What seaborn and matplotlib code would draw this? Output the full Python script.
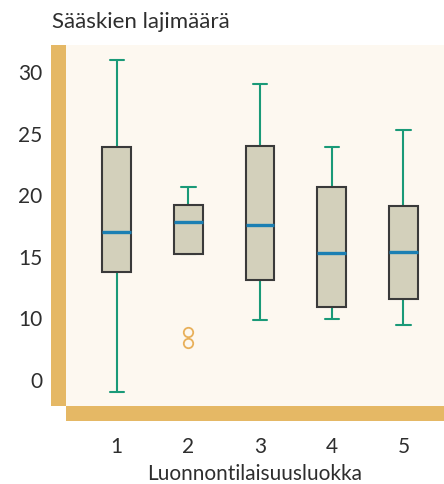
import numpy as np
import pandas as pd
import matplotlib
matplotlib.use("Agg")
import matplotlib.pyplot as plt
from matplotlib.patches import Rectangle
import seaborn as sns

# ---- data (y in the chart's plotted units) ----
classes = ["1", "2", "3", "4", "5"]
whisker_low = [4.0, 15.2, 9.85, 9.95, 9.5]
q1 = [13.8, 15.2, 13.1, 10.95, 11.6]
median = [17.0, 17.8, 17.6, 15.3, 15.4]
q3 = [23.9, 19.2, 24.0, 20.7, 19.15]
whisker_high = [31.0, 20.7, 29.0, 23.9, 25.3]
outliers = [[], [8.0, 8.9], [], [], []]

ytick_pos = [5, 10, 15, 20, 25, 30]
ytick_labels = ["0", "10", "15", "20", "25", "30"]
title = "Sääskien lajimäärä"
xlabel = "Luonnontilaisuusluokka"

# build a sample table whose box statistics equal the values above
rows = []
for c, lo, a, m, b, hi, outs in zip(classes, whisker_low, q1, median, q3, whisker_high, outliers):
    k = len(outs)
    mm = k + 1
    vals = list(outs) + [lo] * (mm - k) + [a] * mm + [m] * mm + [b] * mm + [hi]
    rows += [(c, v) for v in vals]
df = pd.DataFrame(rows, columns=["luokka", "lajimaara"])

# ---- style ----
sns.set_style("white")
plt.rcParams["font.family"] = ["Lato", "DejaVu Sans"]
TXT = "#2e2e2e"
GOLD = "#e5b865"
CREAM = "#fdf8f0"
BOXFILL = "#d3d0bb"
EDGE = "#3a3a3a"
MED = "#1b7fb3"
WHISK = "#1a9a78"
FLIER = "#e8b05a"

W, H = 444, 484
fig = plt.figure(figsize=(W / 100, H / 100), dpi=100)
fig.patch.set_facecolor("white")
ax = fig.add_axes([66 / W, (H - 406) / H, 378 / W, 361 / H])
ax.set_facecolor(CREAM)

sns.boxplot(
    data=df, x="luokka", y="lajimaara", order=classes, ax=ax,
    width=0.4, color=BOXFILL, linecolor=EDGE, linewidth=1.5,
    boxprops=dict(facecolor=BOXFILL, edgecolor=EDGE, linewidth=1.5, zorder=2.2),
    medianprops=dict(color=MED, linewidth=2.4, zorder=2.4),
    whiskerprops=dict(color=WHISK, linewidth=1.5, zorder=1.9),
    capprops=dict(color=WHISK, linewidth=1.5, zorder=1.9),
    flierprops=dict(marker="o", markerfacecolor="none", markeredgecolor=FLIER,
                    markersize=6.8, markeredgewidth=1.3),
)

ax.set_xlim(-0.707, 4.567)
ax.set_ylim(2.89, 32.19)
for s in ax.spines.values():
    s.set_visible(False)

ax.set_yticks(ytick_pos)
ax.set_yticklabels(ytick_labels)
ax.tick_params(axis="y", direction="out", length=5.0, width=1.5, color="white",
               pad=12, labelsize=15, labelcolor=TXT)
ax.tick_params(axis="x", length=0, pad=22, labelsize=15, labelcolor=TXT)
ax.set_xlabel(xlabel, fontsize=15, color=TXT, labelpad=5)
ax.set_ylabel("")

# golden axis bars
fig.patches.append(Rectangle((51 / W, (H - 406) / H), 15 / W, 361 / H,
                             transform=fig.transFigure, facecolor=GOLD,
                             edgecolor="none", zorder=-1))
fig.patches.append(Rectangle((66 / W, (H - 421) / H), 378 / W, 15 / H,
                             transform=fig.transFigure, facecolor=GOLD,
                             edgecolor="none", zorder=-1))

fig.text(52 / W, 1 - 22 / H, title, ha="left", va="center", fontsize=16, color=TXT)

fig.savefig("out.png", dpi=100)
